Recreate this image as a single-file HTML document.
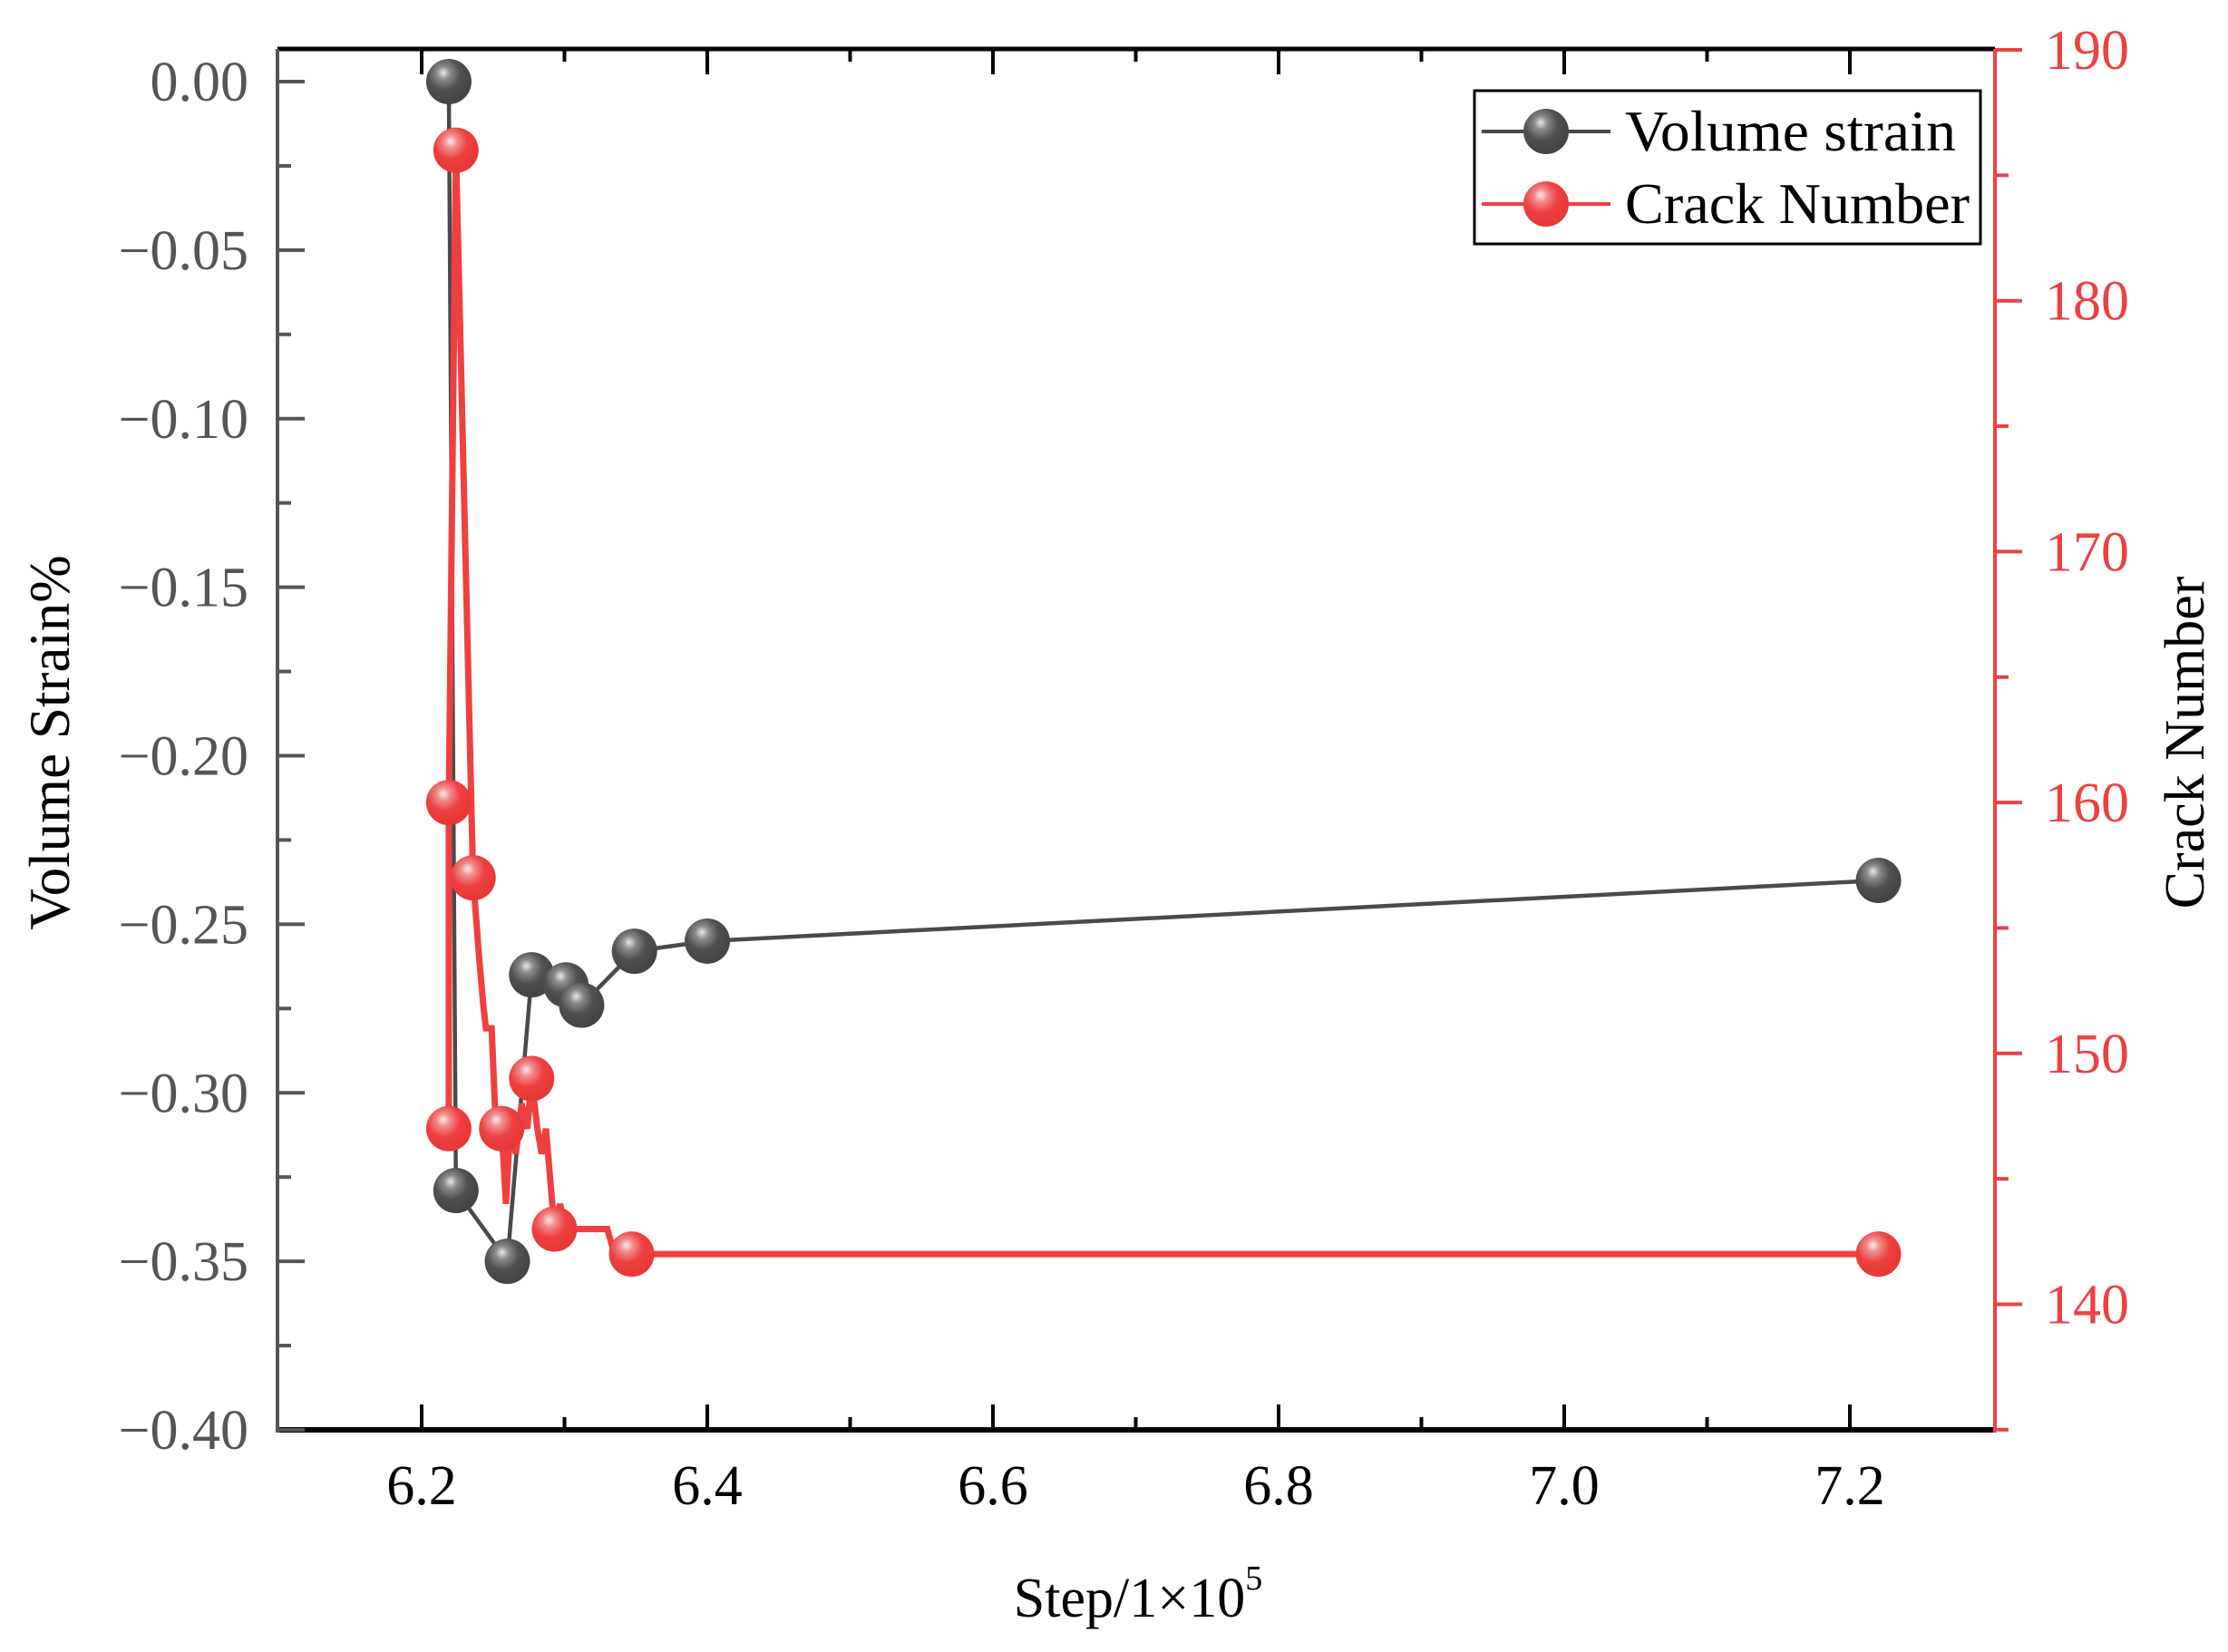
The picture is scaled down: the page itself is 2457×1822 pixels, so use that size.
<!DOCTYPE html>
<html><head><meta charset="utf-8">
<style>
html,body{margin:0;padding:0;background:#fff;}
svg{display:block;font-family:"Liberation Serif",serif;}
</style></head>
<body>
<svg id="chart" width="2457" height="1822" viewBox="0 0 2457 1822" xmlns="http://www.w3.org/2000/svg">
<defs>
<radialGradient id="gBlack" cx="0.4" cy="0.35" r="0.6" fx="0.38" fy="0.3">
<stop offset="0" stop-color="#e8e8e8"/><stop offset="0.25" stop-color="#8a8a8a"/><stop offset="0.6" stop-color="#505050"/><stop offset="1" stop-color="#454545"/></radialGradient>
<radialGradient id="gRed" cx="0.4" cy="0.35" r="0.6" fx="0.38" fy="0.3">
<stop offset="0" stop-color="#fde8e8"/><stop offset="0.25" stop-color="#f08a8a"/><stop offset="0.6" stop-color="#ee4040"/><stop offset="1" stop-color="#e83838"/></radialGradient>
</defs>
<g id="axes"></g>
<g id="series"></g>
<g id="legend">
<rect x="1626" y="100" width="558" height="169" fill="#fff" stroke="#000" stroke-width="3"/>
<line x1="1634" y1="145" x2="1776" y2="145" stroke="#4a4a4a" stroke-width="4"/>
<circle cx="1705" cy="145" r="25" fill="url(#gBlack)"/>
<text x="1792" y="166" font-size="63" fill="#000" textLength="365" lengthAdjust="spacingAndGlyphs">Volume strain</text>
<line x1="1634" y1="225" x2="1776" y2="225" stroke="#ee4040" stroke-width="4"/>
<circle cx="1705" cy="225" r="25" fill="url(#gRed)"/>
<text x="1792" y="246" font-size="63" fill="#000" textLength="380" lengthAdjust="spacingAndGlyphs">Crack Number</text>
</g>
<text transform="translate(76,819) rotate(-90)" text-anchor="middle" font-size="63" fill="#000">Volume Strain%</text>
<text transform="translate(2430,819) rotate(-90)" text-anchor="middle" font-size="62" fill="#000">Crack Number</text>
<text x="1255" y="1783" text-anchor="middle" font-size="62" fill="#000">Step/1×10<tspan dy="-30" font-size="38">5</tspan></text>
</svg>
<script>
const xTicks=[6.2,6.4,6.6,6.8,7.0,7.2];
const xTickLabels=["6.2","6.4","6.6","6.8","7.0","7.2"];
const yLeftTicks=[0,-0.05,-0.10,-0.15,-0.20,-0.25,-0.30,-0.35,-0.40];
const yLeftLabels=["0.00","\u22120.05","\u22120.10","\u22120.15","\u22120.20","\u22120.25","\u22120.30","\u22120.35","\u22120.40"];
const yRightTicks=[140,150,160,170,180,190];
const yRightLabels=["140","150","160","170","180","190"];
const volX=[6.219,6.224,6.26,6.277,6.301,6.312,6.349,6.40,7.22];
const volY=[0,-0.329,-0.35,-0.265,-0.268,-0.274,-0.258,-0.255,-0.237];
const crackLineX=[6.219,6.219,6.224,6.236,6.240,6.243,6.245,6.249,6.252,6.256,6.259,6.261,6.263,6.266,6.270,6.274,6.277,6.281,6.284,6.287,6.290,6.293,6.297,6.300,6.330,6.335,6.347,7.22];
const crackLineY=[147,160,186,157,154,152,151,151,147,147,144,146,147,146,148,147,149,147,146,147,145,143,144,143,143,142,142,142];
const crackMarkX=[6.224,6.219,6.219,6.236,6.256,6.277,6.293,6.347,7.22];
const crackMarkY=[186,160,147,157,147,149,143,142,142];

const NS="http://www.w3.org/2000/svg";
function X(v){return 465+(v-6.2)*1575;}
function YL(v){return 90+(-v)*3717.5;}
function YR(v){return 55+(190-v)*27.67;}
function mk(tag,attrs,parent){const e=document.createElementNS(NS,tag);for(const k in attrs)e.setAttribute(k,attrs[k]);parent.appendChild(e);return e;}
const axes=document.getElementById('axes');
const series=document.getElementById('series');
const L=306,R=2200,T=54,B=1577;
let e;
e=mk('line',{x1:L,y1:T,x2:R,y2:T,stroke:'#000','stroke-width':5},axes);


e=mk('line',{x1:L,y1:B,x2:R,y2:B,stroke:'#000','stroke-width':6},axes);


e=mk('line',{x1:L,y1:T,x2:L,y2:B+3,stroke:'#555','stroke-width':4},axes);


e=mk('line',{x1:R,y1:T,x2:R,y2:B+3,stroke:'#ee4040','stroke-width':4},axes);


for(let v=6.2;v<=7.25;v+=0.1){const x=X(v);const major=Math.round(v*10)%2===0;const len=major?28:14;
 mk('line',{x1:x,y1:B,x2:x,y2:B-len,stroke:'#000','stroke-width':4},axes);
 mk('line',{x1:x,y1:T,x2:x,y2:T+len,stroke:'#000','stroke-width':4},axes);}
xTicks.forEach((v,i)=>{const t=mk('text',{x:X(v),y:1659,'text-anchor':'middle','font-size':62,fill:'#000'},axes);t.textContent=xTickLabels[i];
 
 });
for(let k=0;k<=16;k++){const v=-k*0.025;const y=YL(v);const len=k%2===0?30:15;
 mk('line',{x1:L,y1:y,x2:L+len,y2:y,stroke:'#555','stroke-width':4},axes);}
yLeftTicks.forEach((v,i)=>{const t=mk('text',{x:274,y:YL(v)+21,'text-anchor':'end','font-size':62,fill:'#555'},axes);t.textContent=yLeftLabels[i];
 
 });
for(let v=135;v<=190;v+=5){const y=YR(v);const len=v%10===0?30:15;
 mk('line',{x1:R,y1:y,x2:R+len,y2:y,stroke:'#ee4040','stroke-width':4},axes);}
yRightTicks.forEach((v,i)=>{const t=mk('text',{x:2255,y:YR(v)+21,'text-anchor':'start','font-size':62,fill:'#ee4040'},axes);t.textContent=yRightLabels[i];
 
 });
let d=volX.map((x,i)=>(i?'L':'M')+X(x)+','+YL(volY[i])).join(' ');
e=mk('path',{d:d,fill:'none',stroke:'#4a4a4a','stroke-width':4.5,'stroke-linejoin':'round'},series);


d=crackLineX.map((x,i)=>(i?'L':'M')+X(x)+','+YR(crackLineY[i])).join(' ');
e=mk('path',{d:d,fill:'none',stroke:'#ee4040','stroke-width':7,'stroke-linejoin':'miter'},series);


volX.forEach((x,i)=>{const c=mk('circle',{cx:X(x),cy:YL(volY[i]),r:25,fill:'url(#gBlack)'},series);
 
 });
crackMarkX.forEach((x,i)=>{const c=mk('circle',{cx:X(x),cy:YR(crackMarkY[i]),r:25,fill:'url(#gRed)'},series);
 
 });
</script>
</body></html>
